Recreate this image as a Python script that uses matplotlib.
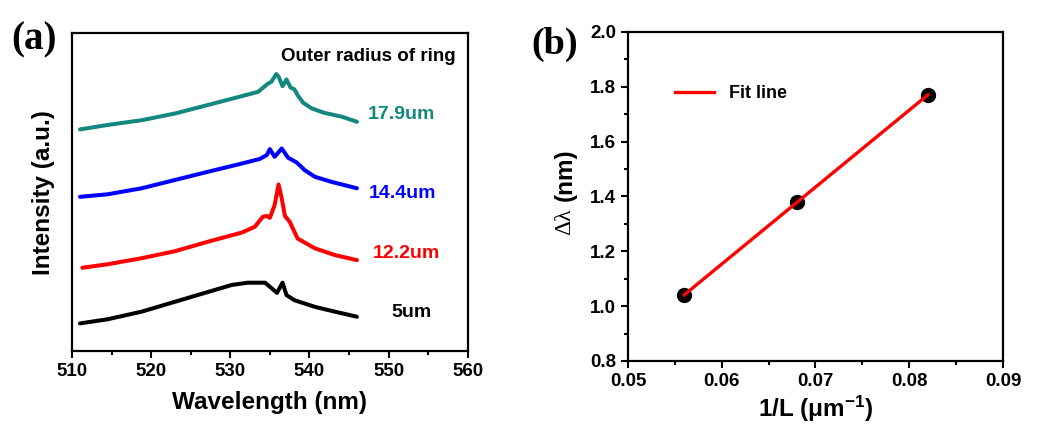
import matplotlib
matplotlib.use('Agg')
import matplotlib.pyplot as plt
from matplotlib.ticker import MultipleLocator
import numpy as np

plt.rcParams['font.family'] = ['Liberation Sans', 'DejaVu Sans']
plt.rcParams['font.weight'] = 'bold'
plt.rcParams['mathtext.fontset'] = 'custom'
plt.rcParams['mathtext.rm'] = 'Liberation Sans:bold'
plt.rcParams['mathtext.default'] = 'rm'

# ---- panel (a): PL spectra, offset vertically (arbitrary units) ----
wl_5 = [511.0, 514.5, 518.8, 523.0, 527.2, 530.2, 532.2, 534.4, 535.9, 536.6,
        537.1, 538.1, 540.7, 543.2, 546.0]
int_5 = [8.7, 10.0, 12.4, 15.5, 18.6, 20.8, 21.5, 21.5, 18.3, 21.5,
         17.6, 16.0, 13.9, 12.4, 10.8]

wl_122 = [511.3, 514.5, 518.8, 523.0, 527.2, 531.5, 533.1, 534.1, 534.6, 535.0,
          535.6, 536.1, 536.5, 536.9, 537.5, 538.5, 540.7, 543.2, 546.0]
int_122 = [26.2, 27.3, 29.2, 31.4, 34.4, 37.3, 39.1, 42.2, 42.5, 41.9,
           45.9, 52.4, 48.0, 42.5, 40.7, 35.4, 32.3, 30.2, 28.6]

wl_144 = [511.0, 514.5, 518.8, 523.0, 527.2, 531.5, 533.7, 534.6, 535.0, 535.6,
          536.5, 537.3, 538.4, 539.4, 540.7, 542.8, 546.0]
int_144 = [48.5, 49.3, 51.2, 53.8, 56.4, 59.0, 60.4, 61.6, 63.5, 61.1,
           63.7, 60.8, 59.3, 56.9, 54.8, 53.2, 51.2]

wl_179 = [511.0, 514.5, 518.8, 523.0, 527.2, 531.5, 533.5, 534.7, 535.2, 535.8,
          536.1, 536.6, 537.1, 537.6, 538.1, 538.5, 539.2, 540.3, 541.9, 544.1, 546.0]
int_179 = [69.7, 71.1, 72.6, 74.7, 77.4, 80.2, 81.5, 84.0, 84.7, 87.1,
           86.3, 83.3, 85.4, 82.9, 82.3, 80.5, 78.1, 76.3, 74.9, 73.7, 72.1]

radius_labels = ['5um', '12.2um', '14.4um', '17.9um']
curve_colors = ['black', '#ff0000', '#0000ff', '#15877f']

# ---- panel (b): splitting vs 1/L ----
inv_L = [0.056, 0.068, 0.082]
delta_lambda = [1.04, 1.38, 1.77]

fig = plt.figure(figsize=(10.44, 4.24), dpi=100)

# panel (a)
ax1 = fig.add_axes([0.069, 0.172, 0.379, 0.750])
spectra = [(wl_5, int_5), (wl_122, int_122), (wl_144, int_144), (wl_179, int_179)]
for (wl, inten), c in zip(spectra, curve_colors):
    ax1.plot(wl, inten, color=c, lw=2.9, solid_joinstyle='round',
             solid_capstyle='round')

ax1.set_xlim(510, 560)
ax1.set_ylim(0, 100)
ax1.set_yticks([])
ax1.xaxis.set_major_locator(MultipleLocator(10))
ax1.xaxis.set_minor_locator(MultipleLocator(5))
ax1.tick_params(axis='x', which='major', direction='out', length=5, width=1.5,
                labelsize=13.5, top=False)
ax1.tick_params(axis='x', which='minor', direction='out', length=3, width=1.5, top=False)
for lab in ax1.get_xticklabels():
    lab.set_fontweight('bold')
ax1.set_xlabel('Wavelength (nm)', fontsize=17.5, fontweight='bold', labelpad=8)
ax1.set_ylabel('Intensity (a.u.)', fontsize=17.5, fontweight='bold', labelpad=12)
for sp in ax1.spines.values():
    sp.set_linewidth(1.6)

ax1.text(0.97, 0.925, 'Outer radius of ring', transform=ax1.transAxes,
         ha='right', va='center', fontsize=13.5, fontweight='bold')
label_pos = [(0.857, 0.12), (0.846, 0.308), (0.836, 0.497), (0.833, 0.745)]
for lbl, c, (tx, ty) in zip(radius_labels, curve_colors, label_pos):
    ax1.text(tx, ty, lbl, transform=ax1.transAxes, ha='center', va='center',
             fontsize=14, fontweight='bold', color=c)

fig.text(0.011, 0.905, '(a)', fontsize=28, fontweight='bold',
         family='Liberation Serif', ha='left', va='center')

# panel (b)
ax2 = fig.add_axes([0.6015, 0.1486, 0.3592, 0.776])
coef = np.polyfit(inv_L, delta_lambda, 1)
fit_x = np.array([min(inv_L), max(inv_L)])
ax2.plot(inv_L, delta_lambda, 'o', color='black', ms=10, zorder=2)
ax2.plot(fit_x, np.polyval(coef, fit_x), color='#ff0000', lw=2.4, zorder=3,
         label='Fit line')

ax2.set_xlim(0.05, 0.09)
ax2.set_ylim(0.8, 2.0)
ax2.xaxis.set_major_locator(MultipleLocator(0.01))
ax2.xaxis.set_minor_locator(MultipleLocator(0.005))
ax2.yaxis.set_major_locator(MultipleLocator(0.2))
ax2.yaxis.set_minor_locator(MultipleLocator(0.1))
ax2.xaxis.set_major_formatter(plt.FuncFormatter(lambda v, p: f'{v:.2f}'))
ax2.yaxis.set_major_formatter(plt.FuncFormatter(lambda v, p: f'{v:.1f}'))
ax2.tick_params(which='major', direction='out', length=5, width=1.5, labelsize=13.5,
                top=False, right=False)
ax2.tick_params(which='minor', direction='out', length=3, width=1.5,
                top=False, right=False)
for lab in ax2.get_xticklabels() + ax2.get_yticklabels():
    lab.set_fontweight('bold')
for sp in ax2.spines.values():
    sp.set_linewidth(1.6)

ax2.set_xlabel(r'1/L ($\mathregular{\mu}$m$^{-1}$)', fontsize=17.5, fontweight='bold',
               labelpad=3)
ax2.text(-0.168, 0.4225, '\u0394\u03bb', transform=ax2.transAxes, rotation=90,
         ha='center', va='center', fontsize=17, family='Liberation Serif',
         fontweight='normal')
ax2.text(-0.168, 0.565, '(nm)', transform=ax2.transAxes, rotation=90,
         ha='center', va='center', fontsize=17.5, fontweight='bold')

leg = ax2.legend(loc='upper left', bbox_to_anchor=(0.105, 0.86), frameon=False,
                 prop={'size': 13, 'weight': 'bold'}, handlelength=2.2,
                 borderaxespad=0)

fig.text(0.509, 0.895, '(b)', fontsize=27.5, fontweight='bold',
         family='Liberation Serif', ha='left', va='center')

plt.savefig('out.png', dpi=100)
print("Created: out.png")
